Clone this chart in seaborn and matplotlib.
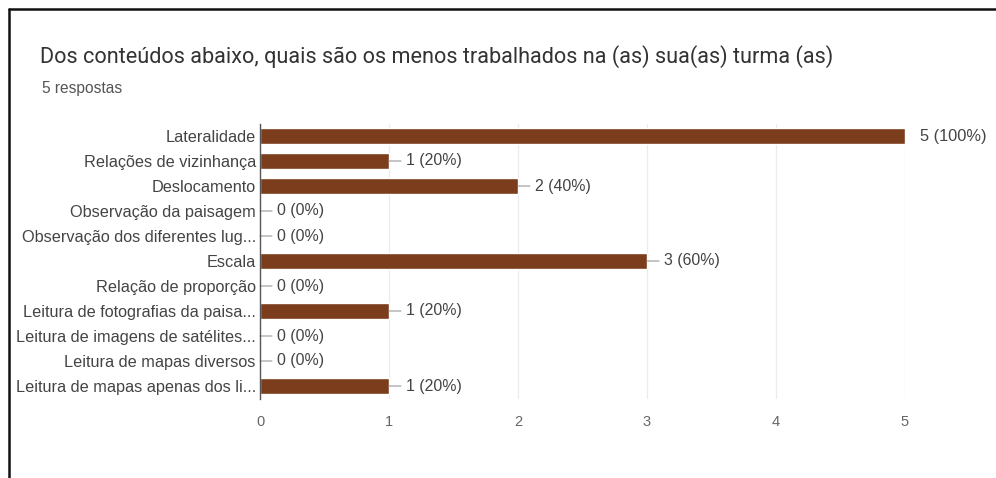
import matplotlib
matplotlib.use("Agg")
import matplotlib.pyplot as plt
import seaborn as sns
import pandas as pd
from matplotlib.lines import Line2D

TITLE = "Dos conteúdos abaixo, quais são os menos trabalhados na (as) sua(as) turma (as)"
SUBTITLE = "5 respostas"

categories = [
    "Lateralidade",
    "Relações de vizinhança",
    "Deslocamento",
    "Observação da paisagem",
    "Observação dos diferentes lug...",
    "Escala",
    "Relação de proporção",
    "Leitura de fotografias da paisa...",
    "Leitura de imagens de satélites...",
    "Leitura de mapas diversos",
    "Leitura de mapas apenas dos li...",
]
counts = [5, 1, 2, 0, 0, 3, 0, 1, 0, 0, 1]
total = 5

BAR_COLOR = "#7b3d1b"
TEXT_COLOR = "#444444"

sns.set_style("white")
plt.rcParams["font.family"] = ["Liberation Sans", "DejaVu Sans"]

df = pd.DataFrame({"item": categories, "n": counts})

fig = plt.figure(figsize=(9.96, 4.78), dpi=100)
ax = fig.add_axes([260 / 996, 1 - 398.5 / 478, 645 / 996, 275 / 478])

sns.barplot(data=df, x="n", y="item", orient="h", color=BAR_COLOR,
            saturation=1, width=0.64, ax=ax)

ax.set_xlim(0, 5)
ax.set_ylim(len(categories) - 0.5, -0.5)
ax.set_xticks(range(0, 6))
ax.grid(axis="x", color="#ececec", lw=0.9)
ax.set_axisbelow(True)
for s in ["top", "right", "bottom"]:
    ax.spines[s].set_visible(False)
ax.spines["left"].set_color("#555555")
ax.spines["left"].set_linewidth(1.0)
ax.spines["left"].set_zorder(5)
ax.set_xlabel("")
ax.set_ylabel("")
ax.tick_params(axis="y", length=0, pad=3, labelsize=11.7, labelcolor=TEXT_COLOR)
ax.tick_params(axis="x", length=0, pad=12, labelsize=10.5, labelcolor="#666666")

# value labels with short leader lines
for i, v in enumerate(counts):
    pct = round(v / total * 100)
    label = f"{v} ({pct}%)"
    if v == max(counts):
        ax.annotate(label, xy=(v, i), xytext=(11, 0), textcoords="offset points",
                    ha="left", va="center", fontsize=11.8, color=TEXT_COLOR,
                    annotation_clip=False)
    else:
        ax.annotate(label, xy=(v, i), xytext=(12, 0), textcoords="offset points",
                    ha="left", va="center", fontsize=11.4, color=TEXT_COLOR,
                    arrowprops=dict(arrowstyle="-", color="#999999", lw=0.8,
                                    shrinkA=1, shrinkB=0),
                    annotation_clip=False)

fig.text(40 / 996, 1 - 57 / 478, TITLE, fontsize=15.6, color="#333333",
         family=["Roboto", "DejaVu Sans"], va="center", ha="left")
fig.text(42 / 996, 1 - 88 / 478, SUBTITLE, fontsize=11.2, color="#555555",
         va="center", ha="left")

# screenshot frame
fig.add_artist(Line2D([9 / 996, 1], [1 - 9 / 478, 1 - 9 / 478],
                      transform=fig.transFigure, color="#111111", lw=1.8))
fig.add_artist(Line2D([9 / 996, 9 / 996], [0, 1 - 9 / 478],
                      transform=fig.transFigure, color="#111111", lw=1.8))

fig.savefig("out.png", dpi=100)
